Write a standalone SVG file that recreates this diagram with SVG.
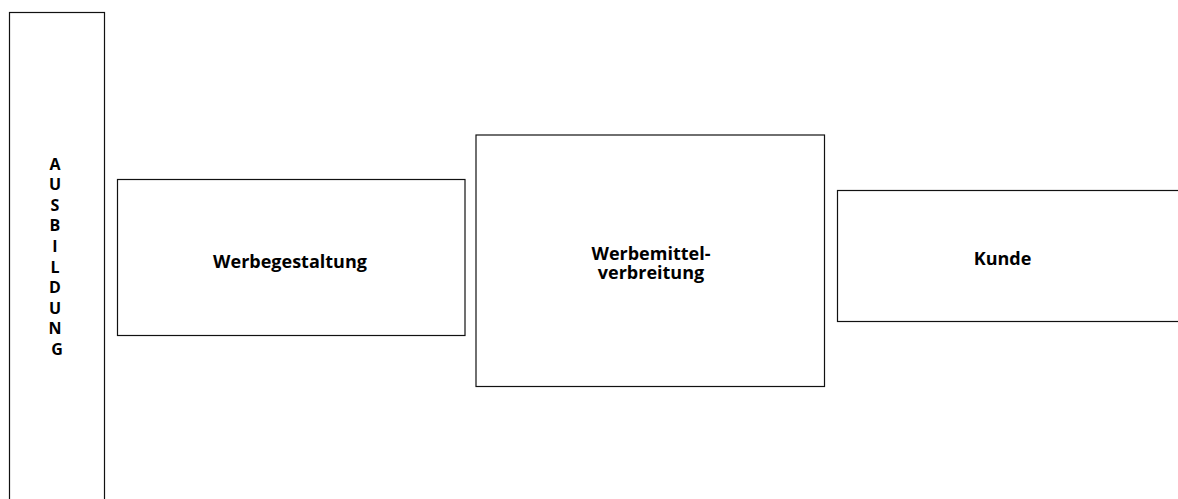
<svg xmlns="http://www.w3.org/2000/svg" width="1178" height="499" viewBox="0 0 1178 499">
  <style>
    .box { fill: #ffffff; stroke: #111111; stroke-width: 1.2; }
    .lbl { font-family: "Open Sans", "Noto Sans", sans-serif; font-weight: bold; font-size: 18px; fill: #000000; text-anchor: middle; }
    .vert { font-size: 16px; }
  </style>
  <rect width="1178" height="499" fill="#ffffff"/>

  <!-- tall side bar, lettered top to bottom -->
  <g id="ausbildung">
    <rect class="box" x="9.5" y="12.5" width="95" height="500"/>
    <text class="lbl vert">
      <tspan x="57" y="169.5">A</tspan>
      <tspan x="57" y="190.1">U</tspan>
      <tspan x="57" y="210.7">S</tspan>
      <tspan x="57" y="231.3">B</tspan>
      <tspan x="57" y="251.9">I</tspan>
      <tspan x="57" y="272.5">L</tspan>
      <tspan x="57" y="293.1">D</tspan>
      <tspan x="57" y="313.7">U</tspan>
      <tspan x="57" y="334.3">N</tspan>
      <tspan x="57" y="354.9">G</tspan>
    </text>
  </g>

  <g id="werbegestaltung">
    <rect class="box" x="117.5" y="179.5" width="347.5" height="156"/>
    <text class="lbl" x="290" y="268">Werbegestaltung</text>
  </g>

  <g id="werbemittelverbreitung">
    <rect class="box" x="476" y="135" width="348.5" height="251.5"/>
    <text class="lbl" x="651" y="260">Werbemittel-</text>
    <text class="lbl" x="651" y="279">verbreitung</text>
  </g>

  <!-- runs off the right edge -->
  <g id="kunde">
    <rect class="box" x="837.5" y="190.5" width="360" height="131"/>
    <text class="lbl" x="1002.5" y="265">Kunde</text>
  </g>

  <g id="connectors"/>
</svg>
